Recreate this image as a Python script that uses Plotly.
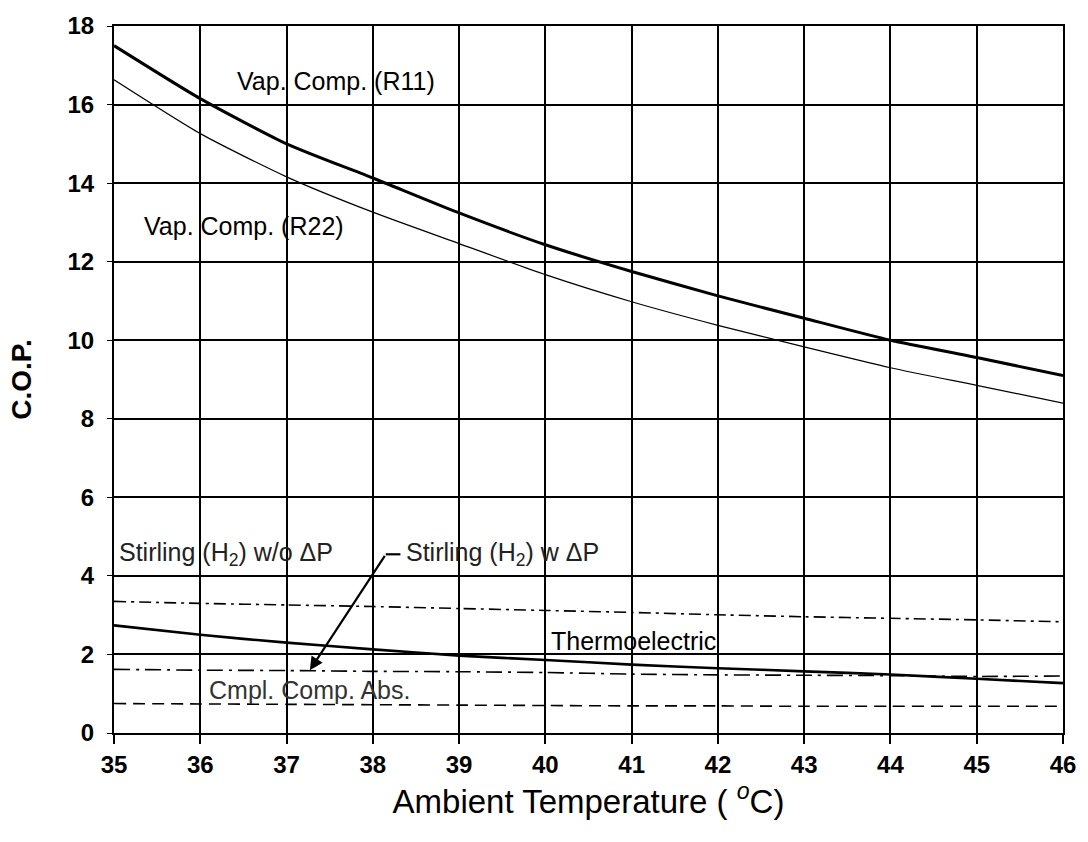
import plotly.graph_objects as go

temps = [35, 36, 37, 38, 39, 40, 41, 42, 43, 44, 45, 46]
vap_r11 = [17.5, 16.15, 15.0, 14.13, 13.24, 12.43, 11.75, 11.13, 10.56, 10.0, 9.56, 9.1]
vap_r22 = [16.63, 15.26, 14.16, 13.26, 12.46, 11.67, 10.98, 10.38, 9.83, 9.3, 8.85, 8.4]
thermo = [2.74, 2.5, 2.3, 2.13, 1.97, 1.86, 1.74, 1.65, 1.57, 1.49, 1.38, 1.27]
stirling_wo = [3.35, 3.3, 3.26, 3.22, 3.17, 3.12, 3.07, 3.01, 2.96, 2.92, 2.88, 2.83]
stirling_w = [1.62, 1.6, 1.59, 1.57, 1.56, 1.54, 1.5, 1.48, 1.47, 1.46, 1.44, 1.45]
cmpl_abs = [0.75, 0.74, 0.73, 0.72, 0.71, 0.7, 0.69, 0.69, 0.68, 0.68, 0.68, 0.68]

x_ticks = [35, 36, 37, 38, 39, 40, 41, 42, 43, 44, 45, 46]
y_ticks = [0, 2, 4, 6, 8, 10, 12, 14, 16, 18]

FONT = "Arial, Liberation Sans, sans-serif"

fig = go.Figure()

def add(y, width, dash, name):
    fig.add_trace(go.Scatter(x=temps, y=y, mode="lines", name=name,
                             line=dict(color="black", width=width, dash=dash, shape="spline", smoothing=0.6),
                             showlegend=False, hoverinfo="skip"))

add(vap_r11, 3, "solid", "Vap. Comp. (R11)")
add(vap_r22, 1.2, "solid", "Vap. Comp. (R22)")
add(stirling_wo, 1.6, "12px,5px,3px,5px", "Stirling w/o dP")
add(thermo, 2.6, "solid", "Thermoelectric")
add(stirling_w, 1.6, "16px,6px,3px,6px", "Stirling w dP")
add(cmpl_abs, 1.6, "12px,7px", "Cmpl. Comp. Abs.")

def label(x, y, text, size=25, color="black"):
    fig.add_annotation(x=x, y=y, xref="x", yref="y", text=text, showarrow=False,
                       xanchor="left", yanchor="middle",
                       font=dict(family=FONT, size=size, color=color))

label(36.4, 16.6, "Vap. Comp. (R11)")
label(35.33, 12.9, "Vap. Comp. (R22)")
label(35.03, 4.55, "Stirling (H<sub>2</sub>) w/o ΔP", color="#222")
label(38.36, 4.55, "Stirling (H<sub>2</sub>) w ΔP", color="#222")
label(40.04, 2.35, "Thermoelectric")
label(36.08, 1.1, "Cmpl. Comp. Abs.", color="#333")

# arrow
fig.add_annotation(x=37.27, y=1.6, ax=38.15, ay=4.55, xref="x", yref="y",
                   axref="x", ayref="y", text="", showarrow=True,
                   arrowhead=2, arrowsize=1.2, arrowwidth=2.2, arrowcolor="black")
fig.add_shape(type="line", x0=38.15, y0=4.55, x1=38.32, y1=4.55,
              xref="x", yref="y", line=dict(color="black", width=2.2))

fig.update_xaxes(range=[35, 46], tickvals=x_ticks, ticktext=[str(v) for v in x_ticks],
                 showgrid=True, gridcolor="black", gridwidth=1.5,
                 showline=True, linecolor="black", linewidth=2, mirror=True,
                 ticks="outside", ticklen=9, tickcolor="black", tickwidth=1.5,
                 tickfont=dict(family=FONT, size=24, color="black", weight="bold"),
                 title=dict(text="Ambient Temperature ( <sup><i>o</i></sup>C)",
                            font=dict(family=FONT, size=33, color="black"), standoff=12),
                 zeroline=False)
fig.update_yaxes(range=[0, 18], tickvals=y_ticks, ticktext=[str(v) for v in y_ticks],
                 showgrid=True, gridcolor="black", gridwidth=1.5,
                 showline=True, linecolor="black", linewidth=2, mirror=True,
                 ticks="outside", ticklen=5, tickcolor="black",
                 ticklabelstandoff=8,
                 tickfont=dict(family=FONT, size=24, color="black", weight="bold"),
                 title=dict(text="C.O.P.", font=dict(family=FONT, size=28, color="black", weight="bold"),
                            standoff=28),
                 zeroline=False)

fig.update_layout(width=1088, height=842, plot_bgcolor="white", paper_bgcolor="white",
                  margin=dict(l=114, r=20, t=24, b=109))

fig.write_html("out.html")
